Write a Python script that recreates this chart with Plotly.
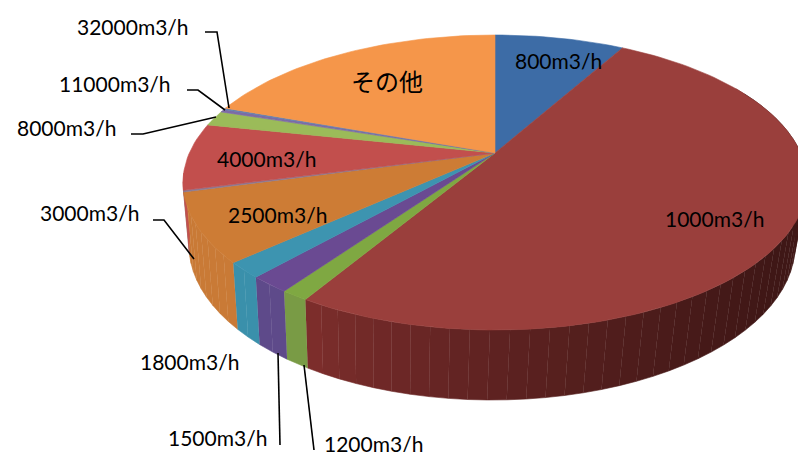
import math
import plotly.graph_objects as go

# Flow-rate categories and their shares of the total, clockwise from twelve o'clock
categories = ["800m3/h", "1000m3/h", "1200m3/h", "1500m3/h", "1800m3/h", "2500m3/h",
              "3000m3/h", "4000m3/h", "8000m3/h", "11000m3/h", "32000m3/h", "その他"]
shares = [8.14, 50.4, 1.2, 1.8, 1.7, 7.5, 0.17, 7.33, 1.67, 0.33, 0.17, 19.5]
top_colors = ["#3d6ca6", "#9a3f3c", "#7fa842", "#6a4a92", "#3d94b0", "#cd7c35",
              "#8a7a95", "#c24f4d", "#9bbb59", "#7d6ba6", "#5f7fb0", "#f5964a"]
wall_colors = ["#2c4d75", "#7e2e2c", "#7a9c45", "#5e4a8a", "#3a90ab", "#c97a36",
               "#8a7a95", "#c24f4d", "#9bbb59", "#7d6ba6", "#5f7fb0", "#f5964a"]

# Label centres and leader polylines, in the pixel units of the hidden axes
label_pos = {
    "800m3/h": (558, 60), "1000m3/h": (714, 218), "1200m3/h": (373, 443),
    "1500m3/h": (217, 437), "1800m3/h": (189, 361), "2500m3/h": (277, 214),
    "3000m3/h": (89, 212), "4000m3/h": (266, 158), "8000m3/h": (66, 127),
    "11000m3/h": (115, 83), "32000m3/h": (133, 26), "その他": (387, 80),
}
leaders = [
    [(205, 32), (217, 32), (229, 108)],
    [(187, 90), (198, 90), (225, 110)],
    [(131, 134), (143, 134), (216, 117)],
    [(153, 220), (164, 220), (194, 259)],
    [(278, 353), (280, 445)],
    [(304, 365), (314, 450)],
]

# Perspective projection of the pie's top and bottom discs
PERSP = 0.2
TOP = dict(cx=495, cy=153, ax=305.7, ay=141.6)
BOTTOM = dict(cx=492, cy=214, ax=297, ay=148.8)


def project(disc, deg):
    t = math.radians(deg)
    u, v = math.sin(t), math.cos(t)
    w = 1 + PERSP * v
    return disc["cx"] + disc["ax"] * u / w, disc["cy"] - disc["ay"] * v / w


def wall_shade(deg):
    # The rim darkens towards the right-hand side, away from the light
    if deg <= 115:
        return 0.78
    if deg >= 215:
        return 1.0
    return 0.78 + 0.22 * (deg - 115) / 100


def scale_color(hex_color, f):
    r, g, b = (int(hex_color[i:i + 2], 16) for i in (1, 3, 5))
    return f"rgb({r * f:.0f},{g * f:.0f},{b * f:.0f})"


def polygon(xs, ys, color):
    return go.Scatter(x=xs, y=ys, mode="lines", fill="toself", fillcolor=color,
                      line=dict(color=color, width=0.6), hoverinfo="skip")


total = sum(shares)
edges = [0.0]
for s in shares:
    edges.append(edges[-1] + 360 * s / total)

fig = go.Figure()

# Rim of the pie, built from short strips so the shading can vary
for i in range(len(shares)):
    start, end = edges[i], edges[i + 1]
    if end < 60 or start > 262:
        continue
    start, end = max(start, 60), min(end, 262)
    n = max(1, int((end - start) / 3))
    for j in range(n):
        a0 = start + (end - start) * j / n
        a1 = start + (end - start) * (j + 1) / n
        top = [project(TOP, a0), project(TOP, a1)]
        bot = [project(BOTTOM, a1), project(BOTTOM, a0)]
        pts = top + bot
        if i == 1:
            # Large slice: dark wine red at the far right, lighter at the front-left
            f = 0.5 + 0.5 * max(0.0, (a0 - 120) / 90) ** 1.6
            color = scale_color(wall_colors[i], f) if a0 > 60 else wall_colors[i]
        else:
            color = scale_color(wall_colors[i], wall_shade((a0 + a1) / 2))
        fig.add_trace(polygon([p[0] for p in pts], [p[1] for p in pts], color))

# Top face of each slice
for i in range(len(shares)):
    start, end = edges[i], edges[i + 1]
    n = max(2, int((end - start) / 1.5))
    arc = [project(TOP, start + (end - start) * j / n) for j in range(n + 1)]
    centre = project(TOP, 0)
    centre = (TOP["cx"], TOP["cy"])
    xs = [centre[0]] + [p[0] for p in arc] + [centre[0]]
    ys = [centre[1]] + [p[1] for p in arc] + [centre[1]]
    fig.add_trace(polygon(xs, ys, top_colors[i]))

# Leader lines to the labels outside the pie
for path in leaders:
    fig.add_trace(go.Scatter(x=[p[0] for p in path], y=[p[1] for p in path], mode="lines",
                             line=dict(color="#000000", width=1.6), hoverinfo="skip"))

annotations = []
for name in categories:
    x, y = label_pos[name]
    cjk = name == "その他"
    annotations.append(dict(
        x=x, y=y, text=name, showarrow=False, xanchor="center", yanchor="middle",
        font=dict(family="Noto Sans CJK JP" if cjk else "Lato, Carlito, sans-serif",
                  size=24 if cjk else 21, color="#000000"),
    ))

fig.update_layout(
    width=798, height=452, margin=dict(l=0, r=0, t=0, b=0),
    paper_bgcolor="#ffffff", plot_bgcolor="#ffffff", showlegend=False,
    xaxis=dict(range=[0, 798], visible=False, fixedrange=True),
    yaxis=dict(range=[452, 0], visible=False, fixedrange=True),
    annotations=annotations,
)

fig.write_html("out.html", config=dict(displayModeBar=False))
